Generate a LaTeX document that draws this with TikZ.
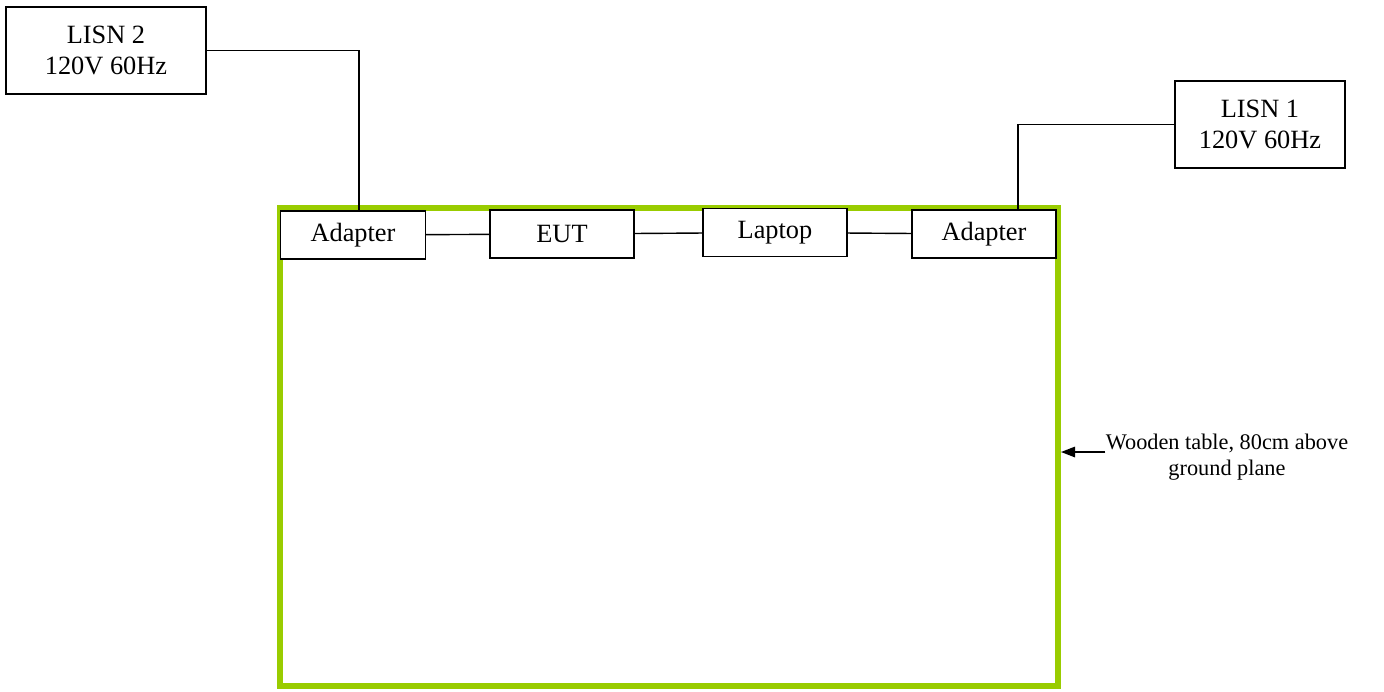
\documentclass[tikz,border=0pt]{standalone}
\usepackage{fontspec}
\setmainfont{Liberation Serif}
\usepackage{xcolor}
\usetikzlibrary{arrows.meta}
\definecolor{tablegreen}{RGB}{153,204,0}

\begin{document}
\begin{tikzpicture}[>={Stealth[length=8pt, width=6pt, inset=0pt]}, x=0.02cm, y=-0.02cm,
    box/.style={draw, line width=0.8pt, fill=white, align=center, inner sep=0pt,
      font=\fontsize{15}{17.5}\selectfont}]
  \useasboundingbox (0,0) rectangle (1384,691);

  \node[draw=tablegreen, line width=3.2pt, minimum width=15.56cm, minimum height=9.56cm] (table) at (669,447) {};

  \node[box, minimum width=4cm, minimum height=1.74cm] (lisn2) at (106,50.5) {LISN 2\\120V 60Hz};
  \node[box, minimum width=3.4cm, minimum height=1.74cm] (lisn1) at (1260,124.5) {LISN 1\\120V 60Hz};
  \node[box, minimum width=2.9cm, minimum height=0.96cm] (adapter2) at (353,235) {Adapter};
  \node[box, minimum width=2.88cm, minimum height=0.96cm] (eut) at (562,234) {EUT};
  \node[box, minimum width=2.88cm, minimum height=0.96cm] (laptop) at (775,232.5) {Laptop};
  \node[box, minimum width=2.88cm, minimum height=0.96cm] (adapter1) at (984,234) {Adapter};

  \node[align=center, inner sep=0pt, font=\fontsize{12.7}{14.7}\selectfont] (label) at (1227,457) {Wooden table, 80cm above\\ground plane};
  \coordinate (tip) at (1061,452);

  \draw[line width=0.8pt] (lisn2.east) -| ([xshift=0.12cm]adapter2.north);
  \draw[line width=0.8pt] (lisn1.west) -| ([xshift=0.68cm]adapter1.north);
  \draw[line width=0.8pt] (adapter2) -- (eut);
  \draw[line width=0.8pt] (eut) -- (laptop);
  \draw[line width=0.8pt] (laptop) -- (adapter1);
  \draw[->, line width=0.8pt] (tip -| label.west) -- (tip);
\end{tikzpicture}
\end{document}
